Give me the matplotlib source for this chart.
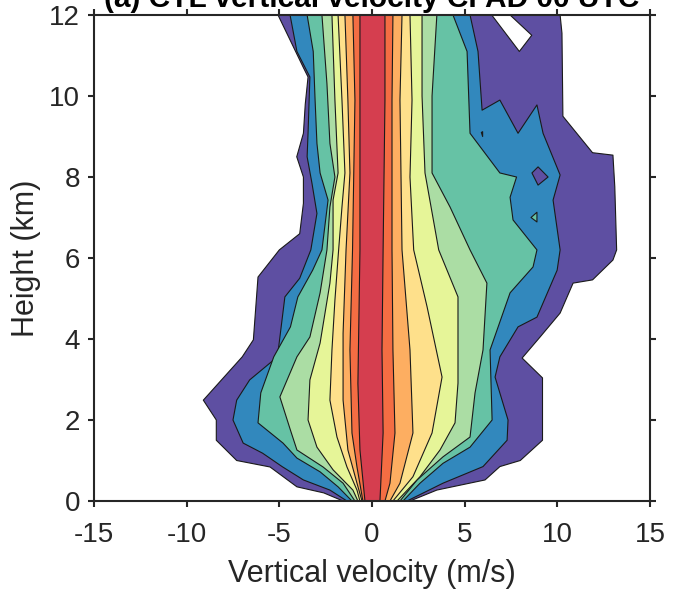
import matplotlib
matplotlib.use("Agg")
import matplotlib.pyplot as plt

# CFAD of vertical velocity: nested frequency bands, outermost (lowest) first.
# Each band outline is given as a left edge and a right edge, both bottom -> top,
# as (velocity m/s, height km) pairs.

band_colors = ["#5e4fa2", "#3288bd", "#66c2a5", "#abdda4", "#e6f598",
               "#fee08b", "#fdae61", "#f46d43", "#d53e4f"]

lvl1_left = [(-1.56, 0.0), (-2.6, 0.2), (-4.05, 0.35), (-5.5, 0.84), (-7.3, 1.0),
             (-8.4, 1.5), (-8.4, 2.0), (-9.1, 2.49), (-7.0, 3.56), (-6.4, 3.98),
             (-6.15, 5.53), (-5.0, 6.2), (-3.9, 6.6), (-3.7, 7.35), (-3.7, 8.0),
             (-4.06, 8.5), (-3.7, 9.08), (-3.6, 9.8), (-3.45, 10.47), (-3.7, 10.7),
             (-5.07, 12.0)]
lvl1_right = [(2.05, 0.0), (3.5, 0.27), (6.1, 0.52), (6.9, 0.85), (8.0, 1.0),
              (9.2, 1.5), (9.2, 3.04), (8.1, 3.53), (9.07, 4.05), (10.15, 4.64),
              (10.85, 5.38), (11.9, 5.46), (13.0, 5.95), (13.2, 6.2), (13.1, 7.76),
              (13.0, 8.54), (11.9, 8.6), (10.3, 9.5), (10.25, 11.55), (10.15, 12.0)]

lvl2_left = [(-1.35, 0.0), (-2.27, 0.27), (-3.7, 0.52), (-4.85, 0.85), (-5.9, 1.18),
             (-6.95, 1.43), (-7.5, 2.0), (-7.3, 2.49), (-6.6, 2.99), (-5.1, 3.56),
             (-4.7, 5.04), (-3.9, 5.5), (-3.3, 6.2), (-2.97, 7.1), (-3.24, 7.85),
             (-3.5, 8.5), (-3.45, 9.08), (-3.35, 10.47), (-4.05, 11.1), (-4.42, 12.0)]
lvl2_right = [(1.89, 0.0), (3.83, 0.44), (5.99, 0.85), (7.29, 1.5), (7.34, 2.0),
              (6.64, 3.06), (6.9, 3.56), (7.88, 4.3), (8.9, 4.54), (9.99, 5.7),
              (10.15, 6.2), (9.77, 7.43), (10.15, 8.05), (9.23, 9.08), (8.9, 9.78),
              (7.88, 9.08), (6.9, 9.9), (5.94, 9.65), (5.72, 11.1), (5.29, 12.0)]

lvl3_left = [(-1.08, 0.0), (-1.83, 0.35), (-2.8, 0.72), (-4.05, 1.06), (-4.8, 1.43),
             (-6.15, 1.93), (-6.0, 2.67), (-5.3, 3.56), (-4.4, 4.3), (-4.0, 5.04),
             (-3.2, 5.7), (-2.7, 6.2), (-2.37, 7.43), (-2.8, 8.1), (-2.97, 8.83),
             (-3.07, 9.9), (-3.17, 11.1), (-3.5, 12.0)]
lvl3_right = [(1.67, 0.0), (2.59, 0.44), (3.83, 0.93), (5.29, 1.33), (6.48, 2.0),
              (6.37, 3.73), (7.45, 5.14), (8.69, 5.78), (8.9, 6.2), (7.61, 6.94),
              (7.45, 7.5), (7.8, 8.0), (6.9, 8.1), (5.29, 9.08), (5.13, 11.1),
              (4.37, 12.0)]

lvl4_left = [(-0.92, 0.0), (-1.56, 0.44), (-2.64, 0.84), (-4.05, 1.26), (-4.4, 1.75),
             (-4.97, 2.57), (-4.05, 3.56), (-3.35, 4.05), (-2.8, 5.14), (-2.43, 6.2),
             (-2.27, 7.26), (-2.0, 8.0), (-2.27, 8.83), (-2.43, 10.3), (-2.7, 12.0)]
lvl4_right = [(1.51, 0.0), (2.43, 0.52), (3.83, 1.09), (5.29, 1.58), (5.56, 2.67),
              (5.99, 3.73), (6.2, 5.38), (5.29, 6.2), (4.21, 7.26), (3.24, 8.1),
              (3.24, 10.0), (3.5, 12.0)]

lvl5_left = [(-0.76, 0.0), (-1.03, 0.27), (-2.1, 0.77), (-2.97, 1.33), (-3.45, 2.0),
             (-3.35, 2.99), (-2.8, 3.9), (-2.27, 5.38), (-2.1, 6.2), (-2.1, 7.43),
             (-1.83, 8.1), (-2.0, 9.9), (-2.16, 12.0)]
lvl5_right = [(1.35, 0.0), (2.59, 0.6), (3.67, 1.26), (4.48, 1.93), (4.64, 2.91),
              (4.64, 5.04), (3.6, 6.2), (2.86, 8.1), (2.7, 10.0), (2.7, 12.0)]

lvl6_left = [(-0.65, 0.0), (-0.81, 0.27), (-1.35, 0.84), (-1.89, 1.58), (-2.27, 2.49),
             (-2.16, 3.73), (-2.0, 4.96), (-1.8, 6.2), (-1.62, 7.26), (-1.46, 8.1),
             (-1.62, 9.9), (-1.83, 12.0)]
lvl6_right = [(1.13, 0.0), (2.21, 0.6), (3.24, 1.68), (3.78, 3.06), (2.97, 4.8),
              (2.25, 6.2), (2.05, 8.0), (2.16, 9.9), (2.05, 12.0)]

lvl7_left = [(-0.54, 0.0), (-0.81, 0.44), (-1.3, 1.26), (-1.56, 2.49), (-1.56, 4.14),
             (-1.4, 6.2), (-1.19, 8.1), (-1.3, 9.9), (-1.46, 12.0)]
lvl7_right = [(0.97, 0.0), (1.51, 0.44), (2.21, 1.68), (2.05, 3.73), (1.62, 6.2),
              (1.51, 9.9), (1.62, 12.0)]

lvl8_left = [(-0.49, 0.0), (-0.81, 0.84), (-1.08, 1.68), (-1.19, 3.73), (-1.05, 6.2),
             (-0.92, 9.9), (-1.03, 12.0)]
lvl8_right = [(0.7, 0.0), (0.97, 0.44), (1.24, 1.68), (1.13, 3.73), (1.08, 6.2),
              (1.08, 9.9), (1.13, 12.0)]

lvl9_left = [(-0.38, 0.0), (-0.65, 1.26), (-0.76, 2.9), (-0.65, 6.2), (-0.65, 12.0)]
lvl9_right = [(0.43, 0.0), (0.6, 1.68), (0.54, 3.73), (0.6, 6.2), (0.7, 9.9), (0.7, 12.0)]

# small closed contours
gap_top = [(6.46, 12.0), (7.45, 12.0), (8.62, 11.5), (7.95, 11.1)]
island_purple = [(8.63, 8.1), (8.96, 8.25), (9.5, 8.0), (8.96, 7.8)]
island_teal = [(8.58, 7.0), (8.9, 7.13), (8.9, 6.89)]
speck_blue = [(5.9, 9.1), (5.97, 9.12), (5.97, 9.0)]

levels = [(lvl1_left, lvl1_right), (lvl2_left, lvl2_right), (lvl3_left, lvl3_right),
          (lvl4_left, lvl4_right), (lvl5_left, lvl5_right), (lvl6_left, lvl6_right),
          (lvl7_left, lvl7_right), (lvl8_left, lvl8_right), (lvl9_left, lvl9_right)]

fig = plt.figure(figsize=(6.79, 5.98), dpi=100)
ax = fig.add_axes([0.1384, 0.1622, 0.8189, 0.8127])

edge_kw = dict(edgecolor="#1a1a1a", linewidth=0.8, joinstyle="round")


def draw_patch(pts, color, z):
    xs = [p[0] for p in pts]
    ys = [p[1] for p in pts]
    ax.fill(xs, ys, facecolor=color, zorder=z, **edge_kw)


for i, (left, right) in enumerate(levels):
    outline = left + right[::-1]
    draw_patch(outline, band_colors[i], 2 + i)
    if i == 0:
        draw_patch(gap_top, "white", 2.5)
    if i == 1:
        draw_patch(island_purple, band_colors[0], 3.5)
        draw_patch(island_teal, band_colors[2], 3.5)
        draw_patch(speck_blue, band_colors[2], 3.5)

ax.set_xlim(-15, 15)
ax.set_ylim(0, 12)
ax.set_xticks([-15, -10, -5, 0, 5, 10, 15])
ax.set_yticks([0, 2, 4, 6, 8, 10, 12])
ax.set_xticklabels(["-15", "-10", "-5", "0", "5", "10", "15"])

dark = "#262626"
for sp in ax.spines.values():
    sp.set_color(dark)
    sp.set_linewidth(1.5)
    sp.set_zorder(20)
ax.tick_params(direction="out", length=4, width=1.5, color=dark, labelcolor=dark,
               labelsize=20, top=True, right=True,
               labelfontfamily="Liberation Sans")
ax.tick_params(axis="x", pad=11)
ax.tick_params(axis="y", pad=6)

ax.set_xlabel("Vertical velocity (m/s)", fontsize=22, color=dark,
              family="Liberation Sans", labelpad=8)
ax.set_ylabel("Height (km)", fontsize=22, color=dark,
              family="Liberation Sans", labelpad=6)

fig.text(0.548, 0.988, "(a) CTL vertical velocity CFAD 00 UTC", ha="center",
         va="baseline", fontsize=21.5, fontweight="bold", family="Liberation Sans")

fig.savefig("out.png", dpi=100)
